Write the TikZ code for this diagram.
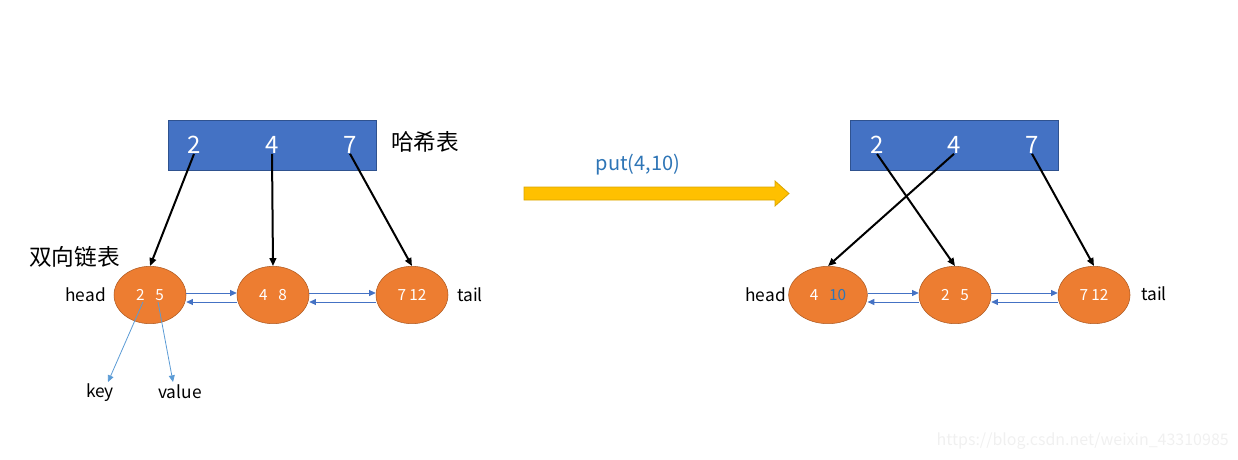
\documentclass[tikz,border=0pt]{standalone}
\usepackage{fontspec}
\setmainfont{Noto Sans CJK SC}
\usetikzlibrary{calc,shapes.geometric,arrows.meta}
\definecolor{cTable}{HTML}{4472C4}
\definecolor{cTableLine}{HTML}{2F528F}
\definecolor{cNode}{HTML}{ED7D31}
\definecolor{cNodeLine}{HTML}{AE5A21}
\definecolor{cLink}{HTML}{4472C4}
\definecolor{cKey}{HTML}{5B9BD5}
\definecolor{cPut}{HTML}{2E75B6}
\definecolor{cArrow}{HTML}{FFC000}
\definecolor{cArrowLine}{HTML}{D9A400}

\begin{document}
\begin{tikzpicture}[x=0.75pt,y=-0.75pt,
  table/.style={draw=cTableLine,fill=cTable,minimum width=156pt,minimum height=37.5pt,inner sep=0},
  slot/.style={text=white,font=\fontsize{18}{18}\selectfont,inner sep=0},
  entry/.style={ellipse,draw=cNodeLine,fill=cNode,minimum width=54pt,minimum height=43pt,inner sep=0,
    text=white,font=\fontsize{11.5}{11.5}\selectfont},
  label/.style={font=\fontsize{13}{13}\selectfont,inner sep=0},
  title/.style={font=\fontsize{17}{17}\selectfont,inner sep=0},
  ptr/.style={-{Triangle[length=6pt,width=5pt]},line width=1.5pt},
  link/.style={-{Triangle[length=5pt,width=4.5pt]},cLink,line width=0.6pt},
  field/.style={-{Triangle[length=5pt,width=4.5pt]},cKey,line width=0.6pt}]
\useasboundingbox (0,0) rectangle (1238,460);
\def\dy{-2}
\def\uy{7}

% before
\node[table] (tabA) at (272,145) {};
\node[slot] (a2) at (194,145) {2};
\node[slot] (a4) at (272,145) {4};
\node[slot] (a7) at (350,145) {7};
\node[title,anchor=west] (hashA) at (391,142) {哈希表};
\node[title,anchor=west] (listA) at (29,257) {双向链表};

\node[entry] (l1) at (150,295) {2\hspace{0.7em}5};
\node[entry] (l2) at (273,295) {4\hspace{0.7em}8};
\node[entry] (l3) at (412,295) {7 12};
\node[label,anchor=east] (headA) at (106,295) {head};
\node[label,anchor=west] (tailA) at (457,295) {tail};

\draw[ptr] (a2.south) -- (l1.north);
\draw[ptr] (a4.south) -- (l2.north);
\draw[ptr] (a7.south) -- (l3.north);

\draw[link] ($(l1.east)+(0,\dy)$) -- ($(l2.west)+(0,\dy)$);
\draw[link] ($(l2.west)+(0,\uy)$) -- ($(l1.east)+(0,\uy)$);
\draw[link] ($(l2.east)+(0,\dy)$) -- ($(l3.west)+(0,\dy)$);
\draw[link] ($(l3.west)+(0,\uy)$) -- ($(l2.east)+(0,\uy)$);

\node[label] (key) at (100,393) {key};
\node[label] (value) at (180,392) {value};
\coordinate (k0) at (143,302);
\coordinate (v0) at (158,302);
\coordinate (k1) at (108,382);
\coordinate (v1) at (173,382);
\draw[field] (k0) -- (k1);
\draw[field] (v0) -- (v1);

% put
\filldraw[fill=cArrow,draw=cArrowLine,line width=0.6pt]
  (524,187) -- (775,187) -- (775,181) -- (789,193.5) -- (775,206) -- (775,200) -- (524,200) -- cycle;
\node[text=cPut,font=\fontsize{15}{15}\selectfont,inner sep=0] (put) at (638,165) {put(4,10)};

% after
\node[table] (tabB) at (954,145) {};
\node[slot] (b2) at (877,145) {2};
\node[slot] (b4) at (954,145) {4};
\node[slot] (b7) at (1032,145) {7};

\node[entry,minimum width=59pt] (r1) at (828,295) {4\hspace{0.7em}\textcolor{cPut}{10}};
\node[entry] (r2) at (955,295) {2\hspace{0.7em}5};
\node[entry] (r3) at (1094,295) {7 12};
\node[label,anchor=east] (headB) at (786,295) {head};
\node[label,anchor=west] (tailB) at (1141,294) {tail};

\draw[ptr] (b4.south) -- (r1.north);
\draw[ptr] (b2.south) -- (r2.north);
\draw[ptr] (b7.south) -- (r3.north);

\draw[link] ($(r1.east)+(0,\dy)$) -- ($(r2.west)+(0,\dy)$);
\draw[link] ($(r2.west)+(0,\uy)$) -- ($(r1.east)+(0,\uy)$);
\draw[link] ($(r2.east)+(0,\dy)$) -- ($(r3.west)+(0,\dy)$);
\draw[link] ($(r3.west)+(0,\uy)$) -- ($(r2.east)+(0,\uy)$);

\node[text=black!6,font=\fontsize{12}{12}\selectfont,anchor=east,inner sep=0] (mark) at (1229,441) {https://blog.csdn.net/weixin\_43310985};
\end{tikzpicture}
\end{document}
